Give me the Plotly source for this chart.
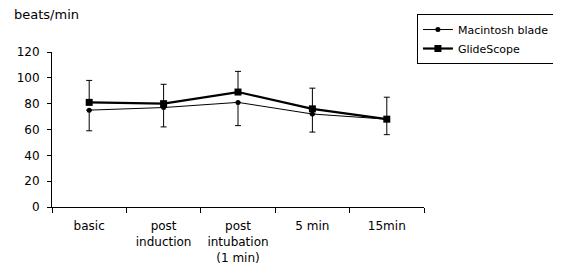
import plotly.graph_objects as go

categories = ["basic", "post<br>induction", "post<br>intubation<br>(1 min)", "5 min", "15min"]
macintosh = [75, 77, 81, 72, 68]
glidescope = [81, 80, 89, 76, 68]
# error bars: upper shown on GlideScope, lower shown on Macintosh
glide_err_up = [17, 15, 16, 16, 17]
mac_err_down = [16, 15, 18, 14, 12]

zeros = [0] * len(categories)
FAM = "DejaVu Sans, Verdana, sans-serif"
font = dict(family=FAM, size=12, color="#000")

fig = go.Figure()
fig.add_trace(go.Scatter(
    x=categories, y=macintosh, name="Macintosh blade", mode="lines+markers",
    line=dict(color="black", width=1), marker=dict(symbol="circle", size=5, color="black"),
    error_y=dict(type="data", symmetric=False, array=zeros, arrayminus=mac_err_down,
                 color="black", thickness=1, width=3),
))
fig.add_trace(go.Scatter(
    x=categories, y=glidescope, name="GlideScope", mode="lines+markers",
    line=dict(color="black", width=2.2), marker=dict(symbol="square", size=7, color="black"),
    error_y=dict(type="data", symmetric=False, array=glide_err_up, arrayminus=zeros,
                 color="black", thickness=1, width=3),
))

# page body has an 8px margin, so the figure is 8px larger and margins are shifted
fig.update_layout(
    width=569, height=281,
    margin=dict(l=44, r=153, t=44, b=82, autoexpand=False),
    paper_bgcolor="white", plot_bgcolor="white",
    font=font,
    showlegend=True,
    legend=dict(x=0.981, y=1.245, xanchor="left", yanchor="top",
                bordercolor="black", borderwidth=1, bgcolor="white",
                font=dict(family=FAM, size=11, color="#000"),
                tracegroupgap=0, itemwidth=30),
    annotations=[dict(text="beats/min", x=-0.1075, y=1.239, xref="paper", yref="paper",
                      xanchor="left", yanchor="middle", showarrow=False,
                      font=dict(family=FAM, size=13, color="#000"))],
)
fig.update_xaxes(
    type="category", showline=True, linecolor="black", linewidth=1,
    ticks="outside", tickson="boundaries", ticklen=5, tickcolor="black",
    showgrid=False, zeroline=False, range=[-0.5, 4.5],
    tickfont=font, ticklabelstandoff=8,
)
fig.update_yaxes(
    range=[0, 120], dtick=20, showline=True, linecolor="black", linewidth=1,
    ticks="outside", ticklen=4, tickcolor="black", showgrid=False, zeroline=False,
    tickfont=font, ticklabelstandoff=5,
)

fig.write_html("out.html")
